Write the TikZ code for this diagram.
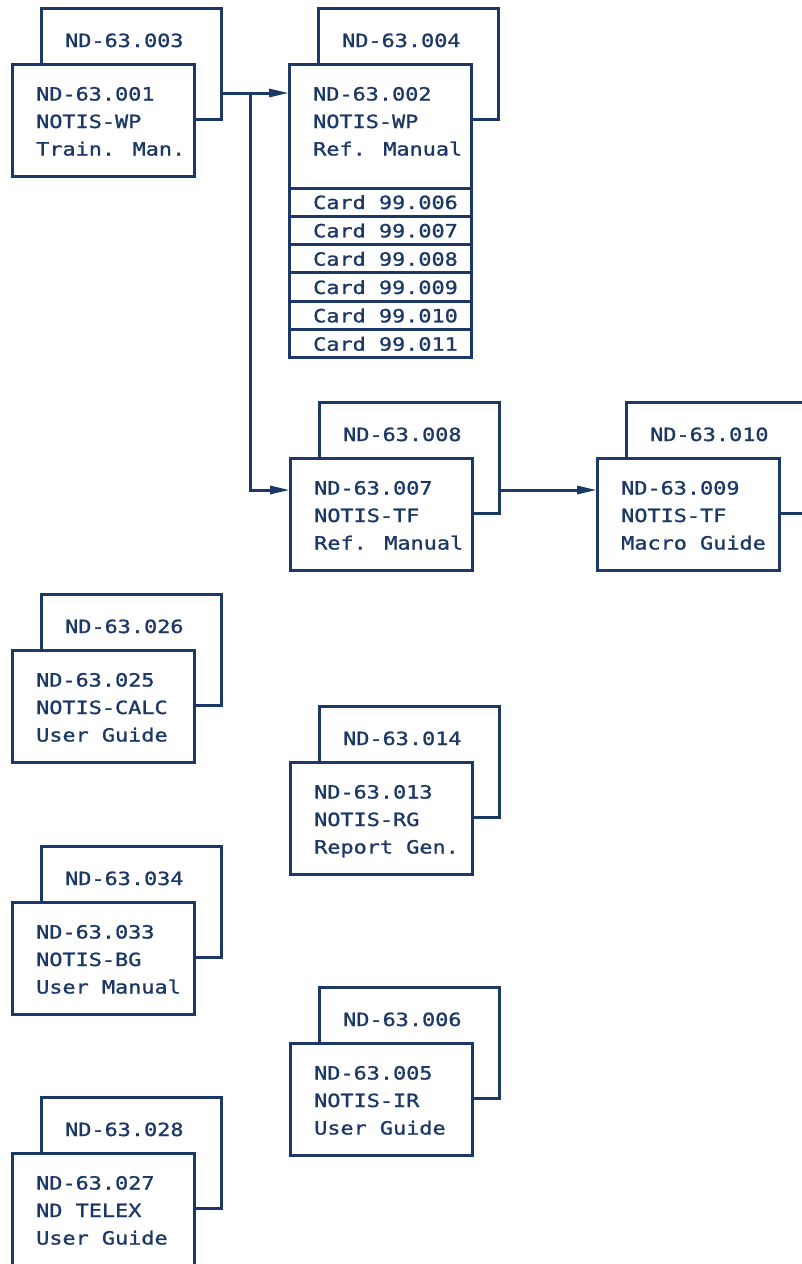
\documentclass[tikz,border=0pt]{standalone}
\usepackage{fontspec}
\usetikzlibrary{arrows.meta,calc}
\newfontfamily\docfont[FakeStretch=1.2,FakeBold=1.2]{DejaVu Sans Mono}
\definecolor{navy}{RGB}{28,56,102}
\tikzset{
  ln/.style={draw=navy, line width=3pt},
  backbox/.style={ln, fill=white, rectangle, inner sep=0pt, outer sep=0pt,
    minimum width=180pt, minimum height=111pt, anchor=north west},
  frontbox/.style={ln, fill=white, rectangle, inner sep=0pt, outer sep=0pt,
    minimum width=182pt, minimum height=112pt, anchor=north west},
  cardrow/.style={ln, fill=white, rectangle, inner sep=0pt, outer sep=0pt,
    minimum width=182pt, minimum height=28.33pt, anchor=north west},
  txt/.style={text=navy, font={\docfont\fontsize{18.2}{20}\selectfont},
    inner sep=0pt, anchor=base west},
  arr/.style={ln, -{Triangle[length=20pt,width=8pt]}}
}
% #1 name, #2 left, #3 top, #4 back text, #5-#7 front lines
\newcommand\docgroup[7]{%
  \node[backbox] (#1b) at (#2+29,#3-56) {};
  \node[txt] (#1bt) at ($(#1b.north west)+(24,39)$) {#4};
  \node[frontbox] (#1f) at (#2,#3) {};
  \node[txt] (#1la) at ($(#1f.north west)+(24,36.5)$) {#5};
  \node[txt] (#1lb) at ($(#1f.north west)+(24,64)$) {#6};
  \node[txt] (#1lc) at ($(#1f.north west)+(24,91.5)$) {#7};
}
\begin{document}
\begin{tikzpicture}[x=1pt,y=-1pt]
\useasboundingbox (0,0) rectangle (802,1264);
\clip (0,0) rectangle (802,1264);
\fill[white] (0,0) rectangle (802,1264);

\docgroup{g1}{12}{64}{ND-63.003}{ND-63.001}{NOTIS-WP}{Train. Man.}

% group 2 with cards
\node[backbox] (g2b) at (289+29,64-56) {};
\node[txt] (g2bt) at ($(g2b.north west)+(24,39)$) {ND-63.004};
\node[frontbox, minimum height=124pt] (g2f) at (289,64) {};
\node[txt] (g2la) at ($(g2f.north west)+(24,36.5)$) {ND-63.002};
\node[txt] (g2lb) at ($(g2f.north west)+(24,64)$) {NOTIS-WP};
\node[txt] (g2lc) at ($(g2f.north west)+(24,91.5)$) {Ref. Manual};
\foreach \k/\c in {0/006,1/007,2/008,3/009,4/010,5/011}{
  \node[cardrow] (card\k) at (289,188+28.33*\k) {};
  \node[txt] (cardt\k) at ($(card\k.north west)+(24,21)$) {Card 99.\c};
}

\docgroup{g3}{290}{458}{ND-63.008}{ND-63.007}{NOTIS-TF}{Ref. Manual}
\docgroup{g4}{597}{458}{ND-63.010}{ND-63.009}{NOTIS-TF}{Macro Guide}
\docgroup{g5}{12}{650}{ND-63.026}{ND-63.025}{NOTIS-CALC}{User Guide}
\docgroup{g6}{290}{762}{ND-63.014}{ND-63.013}{NOTIS-RG}{Report Gen.}
\docgroup{g7}{12}{902}{ND-63.034}{ND-63.033}{NOTIS-BG}{User Manual}
\docgroup{g8}{290}{1043}{ND-63.006}{ND-63.005}{NOTIS-IR}{User Guide}
\docgroup{g9}{12}{1153}{ND-63.028}{ND-63.027}{ND TELEX}{User Guide}

% connectors
\coordinate (j1) at (250,93);
\coordinate (a3) at ($(g3f.north west)+(0,32)$);
\draw[arr] (g1b.east |- j1) -- (g2f.west |- j1);
\draw[arr] (j1) |- (a3);
\draw[arr] (g3b.east |- a3) -- (g4f.west |- a3);
\end{tikzpicture}
\end{document}
